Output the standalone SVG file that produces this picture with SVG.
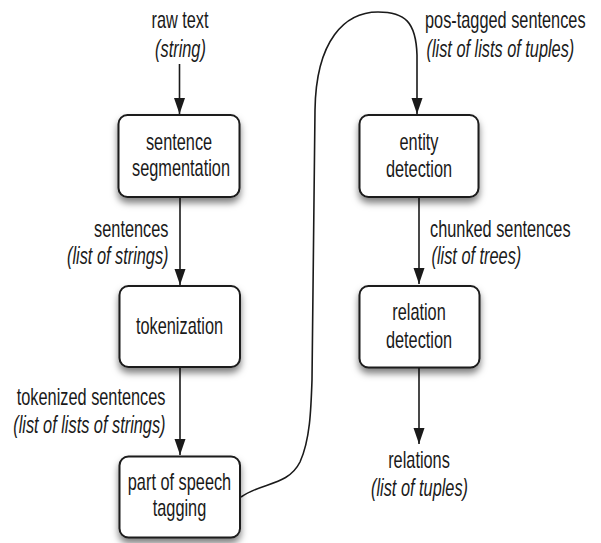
<svg xmlns="http://www.w3.org/2000/svg" width="601" height="543" viewBox="0 0 601 543">
<defs>
<style>
.box{fill:#fff;stroke:#1a1a1a;stroke-width:2;filter:url(#sh)}
.t{font-family:"Liberation Sans",Arial,sans-serif;font-size:24px;fill:#1a1a1a}
.i{font-style:italic}
.m{text-anchor:middle}
.e{text-anchor:end}
.c{fill:none;stroke:#1a1a1a;stroke-width:1.6}
</style>
<filter id="sh" x="-20%" y="-20%" width="140%" height="150%">
<feDropShadow dx="0" dy="5" stdDeviation="3.5" flood-color="#000" flood-opacity="0.5"/>
</filter>
<marker id="ah" markerUnits="userSpaceOnUse" markerWidth="17" markerHeight="12" refX="16" refY="5.5" orient="auto">
<path d="M0,0 L16,5.5 L0,11 Z" fill="#1a1a1a"/>
</marker>
</defs>
<rect width="601" height="543" fill="#fff"/>

<g id="connectors">
<line class="c" x1="179.5" y1="64" x2="179.5" y2="114" marker-end="url(#ah)"/>
<line class="c" x1="180" y1="197" x2="180" y2="285" marker-end="url(#ah)"/>
<line class="c" x1="180" y1="367" x2="180" y2="455" marker-end="url(#ah)"/>
<line class="c" x1="419" y1="197" x2="419" y2="284" marker-end="url(#ah)"/>
<line class="c" x1="419" y1="368" x2="419" y2="444" marker-end="url(#ah)"/>
<path class="c" d="M241,497 C262,482 288,486 300,462 C310,440 311,410 312,380 L315,110 C316,40 345,12 378,12 C405,12 416,22 417,55 L417,114" marker-end="url(#ah)"/>
</g>

<g id="input-label">
<text class="t m" transform="translate(180,28) scale(0.68,1)">raw text</text>
<text class="t m i" transform="translate(180.5,57) scale(0.68,1)">(string)</text>
</g>

<g id="sentence-segmentation">
<rect class="box" x="118.5" y="115" width="121" height="82" rx="9"/>
<text class="t m" transform="translate(179,150) scale(0.68,1)">sentence</text>
<text class="t m" transform="translate(181,176) scale(0.68,1)">segmentation</text>
</g>

<g id="label-sentences">
<text class="t e" transform="translate(168.5,236.5) scale(0.68,1)">sentences</text>
<text class="t e i" transform="translate(168.5,264) scale(0.68,1)">(list of strings)</text>
</g>

<g id="tokenization">
<rect class="box" x="119.5" y="286" width="120.5" height="81" rx="9"/>
<text class="t m" transform="translate(179.5,334) scale(0.68,1)">tokenization</text>
</g>

<g id="label-tokenized">
<text class="t e" transform="translate(165.5,405) scale(0.68,1)">tokenized sentences</text>
<text class="t e i" transform="translate(165.5,433) scale(0.68,1)">(list of lists of strings)</text>
</g>

<g id="pos-tagging">
<rect class="box" x="119.5" y="456.5" width="120.5" height="81" rx="9"/>
<text class="t m" transform="translate(179.5,490) scale(0.68,1)">part of speech</text>
<text class="t m" transform="translate(179.5,516) scale(0.68,1)">tagging</text>
</g>

<g id="label-pos-tagged">
<text class="t" transform="translate(425,28) scale(0.68,1)">pos-tagged sentences</text>
<text class="t i" transform="translate(426.5,57) scale(0.68,1)">(list of lists of tuples)</text>
</g>

<g id="entity-detection">
<rect class="box" x="359.5" y="115" width="119" height="82" rx="9"/>
<text class="t m" transform="translate(419,150) scale(0.68,1)">entity</text>
<text class="t m" transform="translate(419,176.5) scale(0.68,1)">detection</text>
</g>

<g id="label-chunked">
<text class="t" transform="translate(430,236.5) scale(0.68,1)">chunked sentences</text>
<text class="t i" transform="translate(431.5,264) scale(0.68,1)">(list of trees)</text>
</g>

<g id="relation-detection">
<rect class="box" x="359.5" y="286" width="120" height="81.5" rx="9"/>
<text class="t m" transform="translate(419,320) scale(0.68,1)">relation</text>
<text class="t m" transform="translate(419,348) scale(0.68,1)">detection</text>
</g>

<g id="output-label">
<text class="t m" transform="translate(419,468) scale(0.68,1)">relations</text>
<text class="t m i" transform="translate(419.5,496) scale(0.68,1)">(list of tuples)</text>
</g>
</svg>
